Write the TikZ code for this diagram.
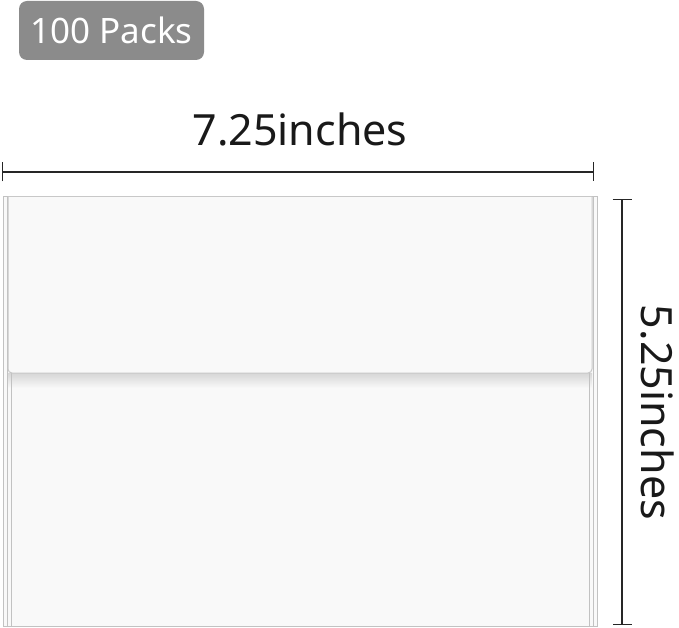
\documentclass[tikz,border=0pt]{standalone}
\usepackage{fontspec}
\setmainfont{Noto Sans}
\usetikzlibrary{arrows.meta}
\definecolor{cimkeszurke}{HTML}{8B8B8B}
\definecolor{papirszel}{HTML}{C2C2C2}
\definecolor{papirlap}{HTML}{F9F9F9}

\begin{document}
\begin{tikzpicture}[x=1pt,y=-1pt,
cimke/.style={ rectangle,rounded corners=8pt,fill=cimkeszurke,text=white,minimum width=185pt,minimum height=59pt,inner sep=0pt,font=\fontsize{35}{40}\selectfont
},
felirat/.style={inner sep=0pt,anchor=base,text=black!90,font=\fontsize{43}{50}\selectfont},
meret/.style={line width=1.4pt,draw=black!85,{Bar[width=19pt]}-{Bar[width=19pt]}},
papir/.style={draw=papirszel,fill=papirlap,line width=1pt}]

\useasboundingbox (0,0) rectangle (679,628);

\node[cimke](csomag) at (111.5,30.5){100 Packs};

\node[felirat](szelesseg) at (300,146){7.25inches};
\node[felirat,rotate=-90](magassag) at (641,412.5){5.25inches};

\coordinate (szel-bal) at (2,172);
\coordinate (szel-jobb) at (594,172);
\coordinate (mag-fent) at (622,199);
\coordinate (mag-lent) at (622,625);

\begin{scope}[meret]
\draw (szel-bal)--(szel-jobb);
\draw (mag-fent)--(mag-lent);
\end{scope}

\draw[papir] (3,197) rectangle (597,626);
\shade[top color=black!16,bottom color=papirlap] (8,373) rectangle (592,388);
\begin{scope}[draw=papirszel,line width=1pt]
\draw (7,197)--(7,626);
\draw (593,197)--(593,626);
\draw (11,373)--(11,626);
\draw (589,373)--(589,626);
\end{scope}

\filldraw[papir,draw=black!22,rounded corners=4pt] (8,197)--(8,373)--(592,373)--(592,197);

\end{tikzpicture}
\end{document}
